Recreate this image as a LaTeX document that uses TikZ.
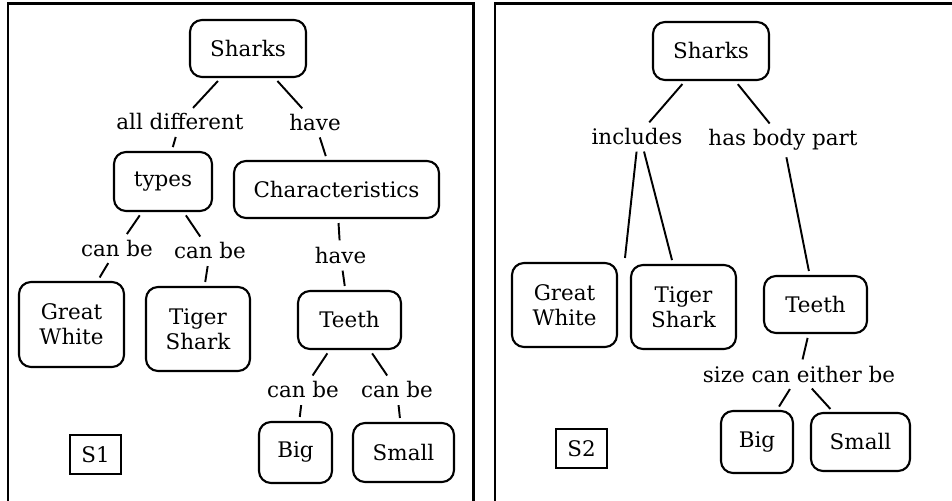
\documentclass[tikz,border=0pt]{standalone}
\usepackage{fontspec}
\setmainfont{DejaVu Serif}
\usepackage{tikz}

\begin{document}
\begin{tikzpicture}[
  every node/.style={font=\fontsize{12.2}{14.2}\selectfont},
  concept/.style={draw, rounded corners=0.24cm, line width=1.2pt, align=center, inner sep=1pt},
  rel/.style={inner sep=0.05cm},
  link/.style={line width=1.1pt, shorten <=0.08cm, shorten >=0.08cm},
  tag/.style={draw, line width=0.9pt, minimum width=1.02cm, minimum height=0.78cm, inner sep=1pt}
]
\useasboundingbox (0,0) rectangle (19.04,10.02);

% S1 map
\draw[line width=1.2pt] (0.16,0) -- (0.16,9.95) -- (9.47,9.95) -- (9.47,0);
\node[concept, minimum width=2.32cm, minimum height=1.14cm] (sharks_a) at (4.96,9.05) {Sharks};
\node[rel] (all_diff) at (3.60,7.58) {all different};
\node[rel] (have_a) at (6.30,7.57) {have};
\node[concept, minimum width=1.96cm, minimum height=1.18cm] (types) at (3.26,6.39) {types};
\node[concept, minimum width=4.10cm, minimum height=1.14cm] (chars) at (6.73,6.23) {Characteristics};
\node[rel] (can_be_l) at (2.34,5.05) {can be};
\node[rel] (can_be_r) at (4.20,5.00) {can be};
\node[rel] (have_b) at (6.81,4.91) {have};
\node[concept, minimum width=2.10cm, minimum height=1.70cm] (great_white_a) at (1.43,3.53) {Great\\White};
\node[concept, minimum width=2.08cm, minimum height=1.68cm] (tiger_shark_a) at (3.96,3.44) {Tiger\\Shark};
\node[concept, minimum width=2.06cm, minimum height=1.16cm] (teeth_a) at (6.99,3.62) {Teeth};
\node[rel] (can_be_big) at (6.06,2.22) {can be};
\node[rel] (can_be_small) at (7.94,2.22) {can be};
\node[concept, minimum width=1.46cm, minimum height=1.22cm] (big_a) at (5.91,0.97) {Big};
\node[concept, minimum width=2.02cm, minimum height=1.18cm] (small_a) at (8.07,0.97) {Small};
\node[tag] (tag_a) at (1.91,0.93) {S1};

\draw[link] (sharks_a) -- (all_diff);
\draw[link] (sharks_a) -- (have_a);
\draw[link] (all_diff) -- (types);
\draw[link] (have_a) -- (chars);
\draw[link] (types) -- (can_be_l);
\draw[link] (types) -- (can_be_r);
\draw[link] (chars) -- (have_b);
\draw[link] (can_be_l) -- (great_white_a);
\draw[link] (can_be_r) -- (tiger_shark_a);
\draw[link] (have_b) -- (teeth_a);
\draw[link] (teeth_a) -- (can_be_big);
\draw[link] (teeth_a) -- (can_be_small);
\draw[link] (can_be_big) -- (big_a);
\draw[link] (can_be_small) -- (small_a);

% S2 map
\draw[line width=1.2pt] (9.90,0) -- (9.90,9.95) -- (19.04,9.95);
\node[concept, minimum width=2.32cm, minimum height=1.16cm] (sharks_b) at (14.22,9.00) {Sharks};
\node[rel] (includes) at (12.74,7.29) {includes};
\node[rel] (body_part) at (15.66,7.22) {has body part};
\node[concept, minimum width=2.10cm, minimum height=1.68cm] (great_white_b) at (11.29,3.92) {Great\\White};
\node[concept, minimum width=2.10cm, minimum height=1.68cm] (tiger_shark_b) at (13.67,3.88) {Tiger\\Shark};
\node[concept, minimum width=2.06cm, minimum height=1.14cm] (teeth_b) at (16.31,3.93) {Teeth};
\node[rel] (size_either) at (15.98,2.53) {size can either be};
\node[concept, minimum width=1.44cm, minimum height=1.24cm] (big_b) at (15.14,1.18) {Big};
\node[concept, minimum width=1.98cm, minimum height=1.16cm] (small_b) at (17.21,1.18) {Small};
\node[tag] (tag_b) at (11.63,1.05) {S2};

\draw[link] (sharks_b) -- (includes);
\draw[link] (sharks_b) -- (body_part);
\draw[link] (includes.south) -- ([xshift=0.13cm]great_white_b.north east);
\draw[link] ([xshift=0.12cm]includes.south) -- ([xshift=-0.21cm]tiger_shark_b.north);
\draw[link] (body_part) -- (teeth_b);
\draw[link] (teeth_b) -- (size_either);
\draw[link] (size_either) -- (big_b);
\draw[link] (size_either) -- (small_b);
\end{tikzpicture}
\end{document}
